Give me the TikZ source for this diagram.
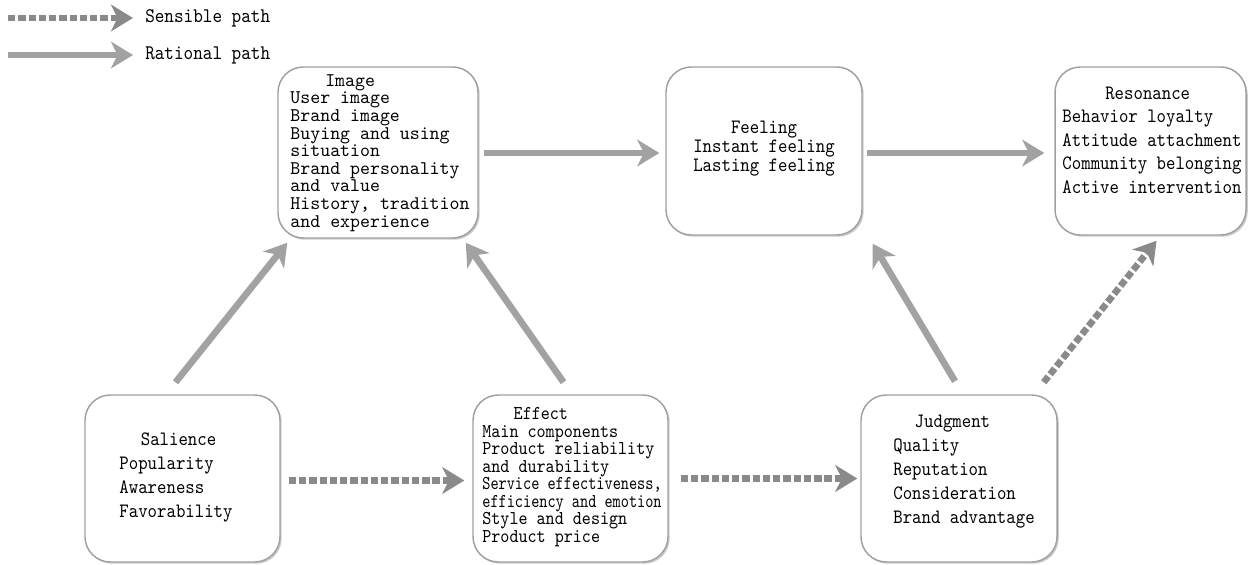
\documentclass[tikz,border=0pt]{standalone}
\usepackage{fontspec}
\usepackage{graphicx}
\usetikzlibrary{arrows.meta,calc,fit,shadows}
\newfontfamily\cmono{lmmono10-regular.otf}[FakeStretch=0.88]
\newfontfamily\cmonoW{lmmono10-regular.otf}[FakeStretch=0.98]
\definecolor{arrgray}{RGB}{162,162,162}
\definecolor{dotgray}{RGB}{138,138,138}
\definecolor{boxgray}{RGB}{160,160,160}
\newcommand\fImg{\cmonoW\fontsize{14.5pt}{13.2pt}\selectfont\lineskiplimit=-\maxdimen}
\newcommand\fFeel{\cmono\fontsize{15.3pt}{14.25pt}\selectfont\lineskiplimit=-\maxdimen}
\newcommand\fRes{\cmono\fontsize{15.3pt}{17.6pt}\selectfont}
\newcommand\fSal{\cmono\fontsize{15.3pt}{18pt}\selectfont}
\newcommand\fEff{\cmono\fontsize{14.7pt}{13.1pt}\selectfont\lineskiplimit=-\maxdimen}
\newcommand\fLeg{\cmono\fontsize{15.6pt}{16pt}\selectfont}
\tikzset{
  box/.style={draw=boxgray, line width=1.1pt, rounded corners=19pt, fill=white,
    inner sep=0pt, drop shadow={shadow xshift=1.3pt, shadow yshift=-1.3pt, fill=black, opacity=0.2}},
  txt/.style={inner sep=0pt, text=black},
  rarrow/.style={draw=arrgray, line width=5pt,
    -{Stealth[length=16.5pt,width=20pt,inset=5pt,fill=arrgray]}},
  sarrow/.style={draw=dotgray, line width=5pt, dash pattern=on 5.5pt off 2.2pt,
    -{Stealth[length=16.5pt,width=20pt,inset=5pt,fill=dotgray]}}
}
\begin{document}
\begin{tikzpicture}[x=0.75pt, y=-0.75pt]
\useasboundingbox[fill=white] (0,0) rectangle (1248,564);

% legend
\coordinate (lgS1) at (8,18);
\coordinate (lgS2) at (133,18);
\coordinate (lgR1) at (8,55);
\coordinate (lgR2) at (133,55);
\draw[sarrow] (lgS1) -- (lgS2);
\draw[rarrow] (lgR1) -- (lgR2);
\node[txt, font=\fLeg, anchor=west] (lgST) at (145,18) {Sensible path};
\node[txt, font=\fLeg, anchor=west] (lgRT) at (145,55) {Rational path};

% boxes
\node[box, fit={(278,67) (478,238)}] (image) {};
\node[box, fit={(666,67) (862,235)}] (feeling) {};
\node[box, fit={(1055,67) (1246,235)}] (resonance) {};
\node[box, fit={(85,395) (280,562)}] (salience) {};
\node[box, fit={(473,395) (668,562)}] (effect) {};
\node[box, fit={(861,395) (1057,562)}] (judgment) {};

% texts
\node[txt, font=\fImg, align=left] (imageT) at (380,153)
  {\hspace*{1.8em}Image\\User image\\Brand image\\Buying and using\\situation\\Brand personality\\and value\\History, tradition\\and experience};
\node[txt, font=\fFeel, align=center] (feelingT) at (764,149)
  {Feeling\\Instant feeling\\Lasting feeling};
\node[txt, font=\fRes, align=left] (resonanceT) at (1152,140)
  {\hspace*{2.1em}Resonance\\Behavior loyalty\\Attitude attachment\\Community belonging\\Active intervention};
\node[txt, font=\fSal, align=left] (salienceT) at (176,477)
  {\hspace*{1.05em}Salience\\Popularity\\Awareness\\Favorability};
\node[txt, font=\fEff, align=left] (effectT) at (572,477)
  {\hspace*{1.6em}Effect\\Main components\\Product reliability\\and durability\\\scalebox{0.9}[1]{Service effectiveness,}\\\scalebox{0.9}[1]{efficiency and emotion}\\Style and design\\Product price};
\node[txt, font=\fSal, align=left] (judgmentT) at (964,472)
  {\hspace*{1.05em}Judgment\\Quality\\Reputation\\Consideration\\Brand advantage};

% rational paths
\draw[rarrow] ($(image.east)+(5,0.5)$) -- ($(feeling.west)+(-6,2)$);
\draw[rarrow] ($(feeling.east)+(4,2)$) -- ($(resonance.west)+(-10,2)$);
\draw[rarrow] ($(salience.north)+(-7,-12)$) -- ($(image.south west)+(10,4)$);
\draw[rarrow] ($(effect.north)+(-7,-12)$) -- ($(image.south east)+(-13,4)$);
\draw[rarrow] ($(judgment.north)+(-4,-13)$) -- ($(feeling.south east)+(10,8)$);

% sensible paths
\draw[sarrow] ($(salience.east)+(8,2)$) -- ($(effect.west)+(-8,2)$);
\draw[sarrow] ($(effect.east)+(12,0)$) -- ($(judgment.west)+(-3,0)$);
\draw[sarrow] ($(judgment.north east)+(-14,-12)$) -- ($(resonance.south)+(6,5)$);
\end{tikzpicture}
\end{document}
